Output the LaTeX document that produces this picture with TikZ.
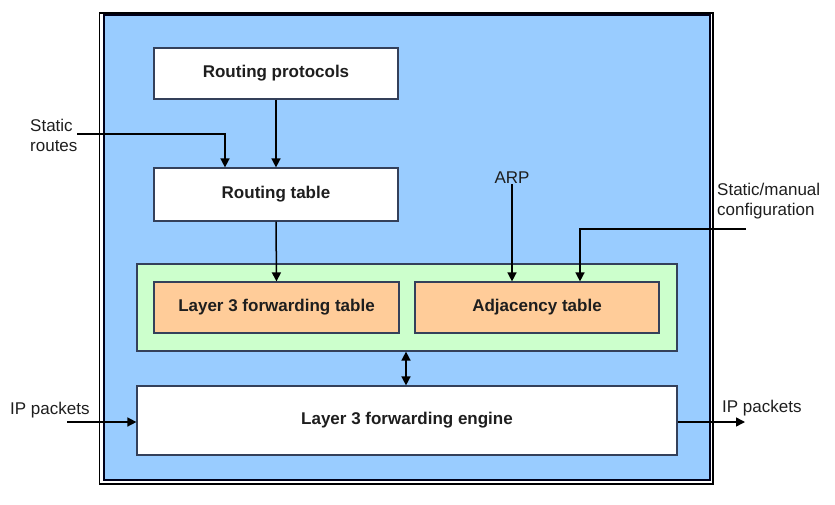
\documentclass[tikz,border=0pt]{standalone}
\usepackage{fontspec}
\setmainfont{Liberation Sans}
\usetikzlibrary{arrows.meta}
\definecolor{bgblue}{HTML}{99CCFF}
\definecolor{lgreen}{HTML}{CCFFCC}
\definecolor{lorange}{HTML}{FFCC99}
\definecolor{boxline}{HTML}{34405A}
\definecolor{txt}{HTML}{1E1E1E}
\tikzset{
  box/.style={draw=boxline, line width=1.2pt, inner sep=0pt, font=\fontsize{17}{20}\selectfont\bfseries, text=txt},
  wbox/.style={box, fill=white},
  obox/.style={box, fill=lorange},
  lbl/.style={inner sep=0pt, font=\fontsize{17}{20}\selectfont, text=txt, align=left},
  tip/.tip={Triangle[length=9pt,width=9pt]},
  arr/.style={line width=1.5pt, -tip},
  darr/.style={line width=1.5pt, tip-tip},
}
\begin{document}
\begin{tikzpicture}[x=1pt,y=-1pt]
\useasboundingbox (0,0) rectangle (835,504);
% frame
\draw[line width=1.2pt, black] (99.5,13) rectangle (713,484);
\draw[line width=2pt, fill=bgblue, draw=black!90!blue] (104,14.5) rectangle (709.5,479.5);
% boxes
\node[wbox, minimum width=244pt, minimum height=51pt] (rp) at (276,73.5) {Routing protocols};
\node[wbox, minimum width=244pt, minimum height=53pt] (rt) at (276,194.5) {Routing table};
\node[box, fill=lgreen, minimum width=540pt, minimum height=87pt] (fib) at (407,307.5) {};
\node[obox, minimum width=245pt, minimum height=51pt] (l3) at (276.5,307.5) {Layer 3 forwarding table};
\node[obox, minimum width=244pt, minimum height=51pt] (adj) at (537,307.5) {Adjacency table};
\node[wbox, minimum width=540pt, minimum height=69pt] (eng) at (407,420.5) {Layer 3 forwarding engine};
% labels
\node[lbl, anchor=west] (sr) at (30,135) {Static\\routes};
\node[lbl] (arp) at (512,178) {ARP};
\node[lbl, anchor=west] (smc) at (717,201) {Static/manual\\configuration};
\node[lbl, anchor=west] (ipl) at (10,410) {IP packets};
\node[lbl, anchor=west] (ipr) at (722,408) {IP packets};
\coordinate (srend) at (77,134);
\coordinate (smcend) at (746,229);
\coordinate (iplend) at (67,422);
\coordinate (iprend) at (745,422);
% connectors
\draw[arr] (rp.south) -- (rt.north);
\draw[arr] (srend) -| ([xshift=-51pt]rt.north);
\draw[arr] (rt.south) -- (l3.north);
\draw[arr] (arp.south) -- (adj.north -| arp.south);
\draw[arr] (smcend) -| ([xshift=43pt]adj.north);
\draw[darr] ([xshift=-1pt]fib.south) -- ([xshift=-1pt]eng.north);
\draw[arr] (iplend) -- (eng.west |- iplend);
\draw[arr] (eng.east |- iprend) -- (iprend);
\end{tikzpicture}
\end{document}
